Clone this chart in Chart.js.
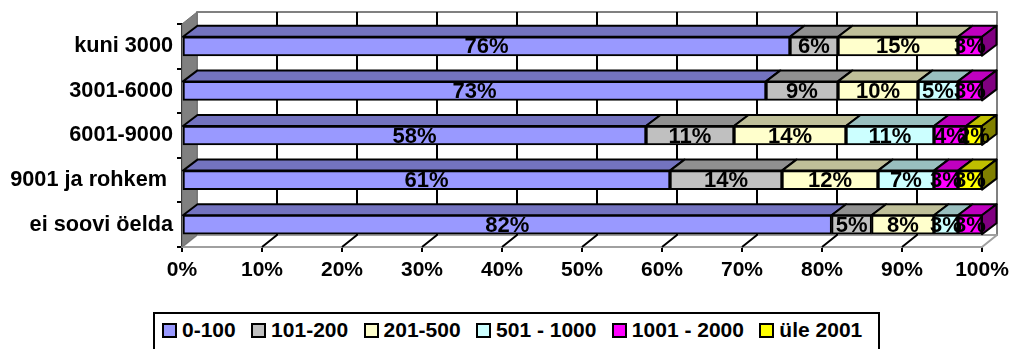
<!DOCTYPE html>
<html>
<head>
<meta charset="utf-8">
<script src="https://cdn.jsdelivr.net/npm/chart.js@4/dist/chart.umd.min.js"></script>
<style>
  html, body { margin: 0; padding: 0; background: #fff; overflow: hidden; }
  #wrap { position: relative; width: 1011px; height: 349px; overflow: hidden; }
  #chart { position: absolute; left: 0; top: 0; }
  #legend {
    position: absolute; left: 153px; top: 312px; width: 727px; height: 60px;
    box-sizing: border-box; border: 2px solid #000; background: #fff;
    font: bold 21px "Liberation Sans", Arial, sans-serif; color: #000;
    padding: 4px 0 0 7px; white-space: nowrap;
  }
  #legend span.item { display: inline-block; margin-right: 15.4px; }
  #legend i {
    display: inline-block; width: 11px; height: 11px; border: 2px solid #000;
    margin-right: 5px; vertical-align: -1px;
  }
</style>
</head>
<body>
<div id="wrap">
  <canvas id="chart" width="1011" height="349"></canvas>
  <div id="legend"></div>
</div>
<script>
// data
var categories = ["kuni 3000", "3001-6000", "6001-9000", "9001 ja rohkem ", "ei soovi öelda"];
var series_names = ["0-100", "101-200", "201-500", "501 - 1000", "1001 - 2000", "üle 2001"];
var values_0_100 = [76, 73, 58, 61, 81.2];
var values_101_200 = [6, 9, 11, 14, 5];
var values_201_500 = [15, 10, 14, 12, 7.8];
var values_501_1000 = [null, 5, 11, 7, 3];
var values_1001_2000 = [3, 3, 4, 3, 3];
var values_ule_2001 = [null, null, 2, 3, null];
var x_ticks_step = 10;

// colors per series: front, top face (darker), side face (darkest)
var front_colors = ["#9999FF", "#C0C0C0", "#FFFFCC", "#CCFFFF", "#FF00FF", "#FFFF00"];
var top_colors = ["#7373BF", "#909090", "#BFBF99", "#99BFBF", "#BF00BF", "#BFBF00"];
var side_colors = ["#4D4D80", "#606060", "#808066", "#668080", "#800080", "#808000"];

var all_values = [values_0_100, values_101_200, values_201_500, values_501_1000, values_1001_2000, values_ule_2001];

// how far the fake 3d goes back
var wall_dx = 15, wall_dy = -12;
var bar_dx = 14.5, bar_dy = -11;

function poly(ctx, pts, fill, stroke, width) {
  ctx.beginPath();
  ctx.moveTo(pts[0][0], pts[0][1]);
  for (var i = 1; i < pts.length; i++) ctx.lineTo(pts[i][0], pts[i][1]);
  ctx.closePath();
  if (fill) { ctx.fillStyle = fill; ctx.fill(); }
  if (stroke) { ctx.strokeStyle = stroke; ctx.lineWidth = width; ctx.lineJoin = "round"; ctx.stroke(); }
}

var walls_plugin = {
  id: "walls",
  beforeDatasetsDraw: function (chart) {
    var ctx = chart.ctx, a = chart.chartArea, xs = chart.scales.x;
    ctx.save();
    // back wall
    poly(ctx, [[a.left + wall_dx, a.top + wall_dy], [a.right + wall_dx, a.top + wall_dy],
      [a.right + wall_dx, a.bottom + wall_dy], [a.left + wall_dx, a.bottom + wall_dy]], "#fff", "#808080", 2);
    // floor
    poly(ctx, [[a.left, a.bottom], [a.right, a.bottom], [a.right + wall_dx, a.bottom + wall_dy],
      [a.left + wall_dx, a.bottom + wall_dy]], "#fff", "#A0A0A0", 2);
    // left wall
    poly(ctx, [[a.left, a.top], [a.left + wall_dx, a.top + wall_dy], [a.left + wall_dx, a.bottom + wall_dy],
      [a.left, a.bottom]], "#808080", "#707070", 1);
    // grid lines on back wall and floor
    ctx.strokeStyle = "#000";
    ctx.lineWidth = 2;
    xs.ticks.forEach(function (t) {
      if (t.value === 0 || t.value === 100) return;
      var px = xs.getPixelForValue(t.value);
      ctx.beginPath();
      ctx.moveTo(px, a.bottom);
      ctx.lineTo(px + wall_dx, a.bottom + wall_dy);
      ctx.lineTo(px + wall_dx, a.top + wall_dy);
      ctx.stroke();
    });
    // top and side faces of the bars
    categories.forEach(function (c, i) {
      var last = -1;
      chart.data.datasets.forEach(function (ds, d) {
        if (ds.data[i] == null) return;
        last = d;
        var b = chart.getDatasetMeta(d).data[i];
        var top = b.y - b.height / 2;
        poly(ctx, [[b.base, top], [b.base + bar_dx, top + bar_dy], [b.x + bar_dx, top + bar_dy], [b.x, top]],
          top_colors[d], "#000", 2);
      });
      var e = chart.getDatasetMeta(last).data[i];
      var t = e.y - e.height / 2;
      poly(ctx, [[e.x, t], [e.x + bar_dx, t + bar_dy], [e.x + bar_dx, t + bar_dy + e.height], [e.x, t + e.height]],
        side_colors[last], "#000", 2);
    });
    ctx.restore();
  }
};

var labels_plugin = {
  id: "bar_labels",
  afterDatasetsDraw: function (chart) {
    var ctx = chart.ctx;
    ctx.save();
    ctx.font = 'bold 22px "Liberation Sans", Arial, sans-serif';
    ctx.fillStyle = "#000";
    ctx.textAlign = "center";
    ctx.textBaseline = "middle";
    chart.data.datasets.forEach(function (ds, d) {
      ds.data.forEach(function (v, i) {
        if (v == null) return;
        var b = chart.getDatasetMeta(d).data[i];
        // the source rounds its labels up (81.x reads 82%)
        ctx.fillText(Math.ceil(v) + "%", (b.x + b.base) / 2, b.y + 1);
      });
    });
    ctx.restore();
  }
};

function make_datasets() {
  var out = [];
  for (var i = 0; i < series_names.length; i++) {
    out.push({
      label: series_names[i],
      data: all_values[i],
      backgroundColor: front_colors[i],
      borderColor: "#000",
      borderWidth: 2,
      borderSkipped: false,
      barThickness: 19
    });
  }
  return out;
}

function make_legend() {
  var box = document.getElementById("legend");
  series_names.forEach(function (name, i) {
    var item = document.createElement("span");
    item.className = "item";
    var sw = document.createElement("i");
    sw.style.background = front_colors[i];
    item.appendChild(sw);
    item.appendChild(document.createTextNode(name));
    box.appendChild(item);
  });
}

var font_ticks = { family: '"Liberation Sans", Arial, sans-serif', size: 21, weight: "bold" };
var font_cats = { family: '"Liberation Sans", Arial, sans-serif', size: 21.7, weight: "bold" };

var my_chart = new Chart(document.getElementById("chart").getContext("2d"), {
  type: "bar",
  data: { labels: categories, datasets: make_datasets() },
  plugins: [walls_plugin, labels_plugin],
  options: {
    indexAxis: "y",
    responsive: false,
    animation: false,
    layout: { padding: { top: 24, right: 29, left: 0, bottom: 0 } },
    plugins: { legend: { display: false }, tooltip: { enabled: false } },
    scales: {
      x: {
        stacked: true,
        min: 0,
        max: 100,
        afterFit: function (s) { s.height = 102; s.paddingLeft = 0; s.paddingRight = 0; },
        border: { color: "#000", width: 2 },
        grid: { drawOnChartArea: false, drawTicks: true, tickLength: 5, color: "#000", lineWidth: 2 },
        ticks: {
          stepSize: x_ticks_step,
          color: "#000",
          font: font_ticks,
          padding: 6,
          maxRotation: 0,
          autoSkip: false,
          callback: function (v) { return v + "%"; }
        }
      },
      y: {
        stacked: true,
        afterFit: function (s) { s.width = 182; s.paddingTop = 0; s.paddingBottom = 0; },
        border: { color: "#000", width: 2 },
        grid: { drawOnChartArea: false, drawTicks: true, tickLength: 5, color: "#000", lineWidth: 2 },
        ticks: { color: "#000", font: font_cats, padding: 4, autoSkip: false }
      }
    }
  }
});

make_legend();
</script>
</body>
</html>
